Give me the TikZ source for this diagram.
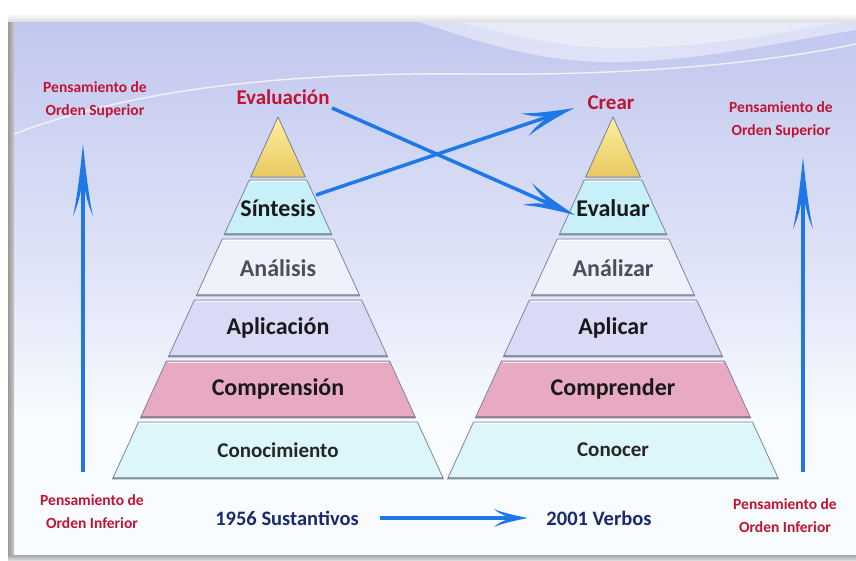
\documentclass[tikz,border=0pt]{standalone}
\usepackage{fontspec}
\setmainfont{Carlito}
\usetikzlibrary{calc}

% Palette
\definecolor{topcol}{HTML}{FFF0A0}
\definecolor{topcolB}{HTML}{E8C860}
\definecolor{cyanband}{HTML}{C8F0F8}
\definecolor{paleband}{HTML}{EEF3FB}
\definecolor{lilacband}{HTML}{DADAF6}
\definecolor{pinkband}{HTML}{E8A9C2}
\definecolor{baseband}{HTML}{DDF6FA}
\definecolor{bandedge}{HTML}{7E84A0}
\definecolor{arrowblue}{HTML}{1E78E8}
\definecolor{labelred}{HTML}{C01434}
\definecolor{navy}{HTML}{1B2A6E}
\definecolor{greytext}{HTML}{4C4E5C}
\definecolor{bgtop}{HTML}{C0C6EE}
\definecolor{bgmid}{HTML}{E4E8F9}
\definecolor{bgbot}{HTML}{F8FCFE}

% One trapezoidal layer of a pyramid centred on #1, between heights #2 and #3
\newcommand{\pyrband}[4]{%
  \pgfmathsetmacro{\hwa}{0.4573*(#2-117)}%
  \pgfmathsetmacro{\hwb}{0.4573*(#3-117)}%
  \filldraw[fill=#4, draw=bandedge, line width=0.8pt, line join=round]
    (#1-\hwa,#2) -- (#1+\hwa,#2) -- (#1+\hwb,#3) -- (#1-\hwb,#3) -- cycle;
  \draw[white, opacity=0.8, line width=1.2pt]
    (#1-\hwa+1.5,#2+1.5) -- (#1+\hwa-1.5,#2+1.5);
  \draw[bandedge!80!black, opacity=0.6, line width=1.6pt]
    (#1-\hwb+1,#3-0.8) -- (#1+\hwb-1,#3-0.8);
}

% Blue connector from #1 to #2 ending in a long barbed head
% (#3 = head length, #4 = half width of the head, #5 = line width)
\newcommand{\barbarrow}[5]{%
  \draw[arrowblue, line width=#5, shorten >=#3*0.45] (#1) -- (#2);
  \fill[arrowblue] let \p1=($(#2)-(#1)$), \n1={atan2(\y1,\x1)} in
    [shift={(#2)}, rotate=\n1]
    (0,0) .. controls (-0.3*#3,0.22*#4) and (-0.75*#3,0.58*#4) .. (-#3,#4)
          .. controls (-0.82*#3,0.4*#4) and (-0.62*#3,0.16*#4) .. (-0.5*#3,0)
          .. controls (-0.62*#3,-0.16*#4) and (-0.82*#3,-0.4*#4) .. (-#3,-#4)
          .. controls (-0.75*#3,-0.58*#4) and (-0.3*#3,-0.22*#4) .. (0,0) -- cycle;
}

\tikzset{
  bandlabel/.style={font=\bfseries\fontsize{24}{26}\selectfont, text=black!90},
  baselabel/.style={font=\fontsize{21}{24}\selectfont\bfseries, text=black!85},
  greylabel/.style={font=\bfseries\fontsize{24}{26}\selectfont, text=greytext},
  redtitle/.style={font=\bfseries\fontsize{21}{24}\selectfont, text=labelred},
  sidenote/.style={font=\bfseries\fontsize{15.5}{23}\selectfont, text=labelred, align=center},
  yearlabel/.style={font=\bfseries\fontsize{20.5}{24}\selectfont, text=navy},
}

\begin{document}
\begin{tikzpicture}[x=1pt,y=-1pt]
\useasboundingbox (0,0) rectangle (856,560);

% ---- backdrop ----
\fill[white] (0,0) rectangle (856,560);
\shade[top color=bgtop, bottom color=bgmid] (8,13) rectangle (856,300);
\shade[top color=bgmid, bottom color=bgbot] (8,299.5) rectangle (856,420);
\fill[bgbot] (8,419.5) rectangle (856,555);
% light swoosh at the upper right
\fill[white, opacity=0.45]
  (390,13) .. controls (450,30) and (520,62) .. (610,62)
  .. controls (700,62) and (790,40) .. (856,30) -- (856,13) -- cycle;
\fill[white, opacity=0.35]
  (420,13) .. controls (480,25) and (540,48) .. (620,48)
  .. controls (720,48) and (800,28) .. (856,20) -- (856,13) -- cycle;
% thin highlight curve
\draw[white, opacity=0.75, line width=1.4pt]
  (14,134) .. controls (130,90) and (280,72) .. (470,74)
  .. controls (640,76) and (770,62) .. (856,44);
% frame bevels
\shade[left color=black!40, right color=black!22] (8,13) rectangle (14,555);
\shade[top color=white, bottom color=black!12] (8,13) rectangle (856,21);
\shade[top color=black!35, bottom color=black!15] (8,555) rectangle (856,560);

% ---- left pyramid (1956) ----
\filldraw[top color=topcol, bottom color=topcolB, draw=bandedge, line width=0.8pt, line join=round]
  (278,117) -- (278+27.4,177) -- (278-27.4,177) -- cycle;
\pyrband{278}{180}{235}{cyanband}
\pyrband{278}{239}{296}{paleband}
\pyrband{278}{300}{357}{lilacband}
\pyrband{278}{361}{418}{pinkband}
\pyrband{278}{422}{479}{baseband}

\node[bandlabel] (sint) at (278,208) {Síntesis};
\node[greylabel] (anal) at (278,268) {Análisis};
\node[bandlabel] (apli) at (278,328) {Aplicación};
\node[bandlabel] (compr) at (278,389) {Comprensión};
\node[baselabel] (cono) at (278,450) {Conocimiento};

% ---- right pyramid (2001) ----
\filldraw[top color=topcol, bottom color=topcolB, draw=bandedge, line width=0.8pt, line join=round]
  (613,117) -- (613+27.4,177) -- (613-27.4,177) -- cycle;
\pyrband{613}{180}{235}{cyanband}
\pyrband{613}{239}{296}{paleband}
\pyrband{613}{300}{357}{lilacband}
\pyrband{613}{361}{418}{pinkband}
\pyrband{613}{422}{479}{baseband}

\node[bandlabel] (evar) at (613,208) {Evaluar};
\node[greylabel] (anar) at (613,268) {Análizar};
\node[bandlabel] (aplr) at (613,328) {Aplicar};
\node[bandlabel] (comr) at (613,389) {Comprender};
\node[baselabel] (conr) at (613,450) {Conocer};

% ---- top level names ----
\node[redtitle] (evaluacion) at (283,97) {Evaluación};
\node[redtitle] (crear) at (611,103) {Crear};

% ---- side notes ----
\node[sidenote] (supL) at (95,100) {Pensamiento de\\Orden Superior};
\node[sidenote] (supR) at (781,120) {Pensamiento de\\Orden Superior};
\node[sidenote] (infL) at (92,512) {Pensamiento de\\Orden Inferior};
\node[sidenote] (infR) at (785,516) {Pensamiento de\\Orden Inferior};

\node[yearlabel] (sust) at (287,518) {1956 Sustantivos};
\node[yearlabel] (verb) at (599,518) {2001 Verbos};

% ---- connectors ----
\coordinate (lbot) at (83,472);
\coordinate (ltop) at (83,144);
\coordinate (rbot) at (803,472);
\coordinate (rtop) at (803,157);
\barbarrow{lbot}{ltop}{72}{10}{3.5pt}
\barbarrow{rbot}{rtop}{72}{10}{3.5pt}

% (shifts are in page orientation: negative yshift moves down)
\coordinate (evalstart) at ([xshift=-1pt,yshift=-11pt]evaluacion.east);
\coordinate (evalend) at ([xshift=2pt,yshift=-7pt]evar.west);
\coordinate (sintstart) at ([xshift=-3pt,yshift=13pt]sint.east);
\coordinate (crearend) at ([xshift=-10pt,yshift=-5pt]crear.west);
\coordinate (sustend) at ([xshift=18pt]sust.east);
\coordinate (verbend) at ([xshift=-15pt]verb.west);
\barbarrow{evalstart}{evalend}{52}{12}{3.5pt}
\barbarrow{sintstart}{crearend}{52}{12}{3.5pt}
\barbarrow{sustend}{verbend}{34}{9}{3.2pt}
\end{tikzpicture}
\end{document}
